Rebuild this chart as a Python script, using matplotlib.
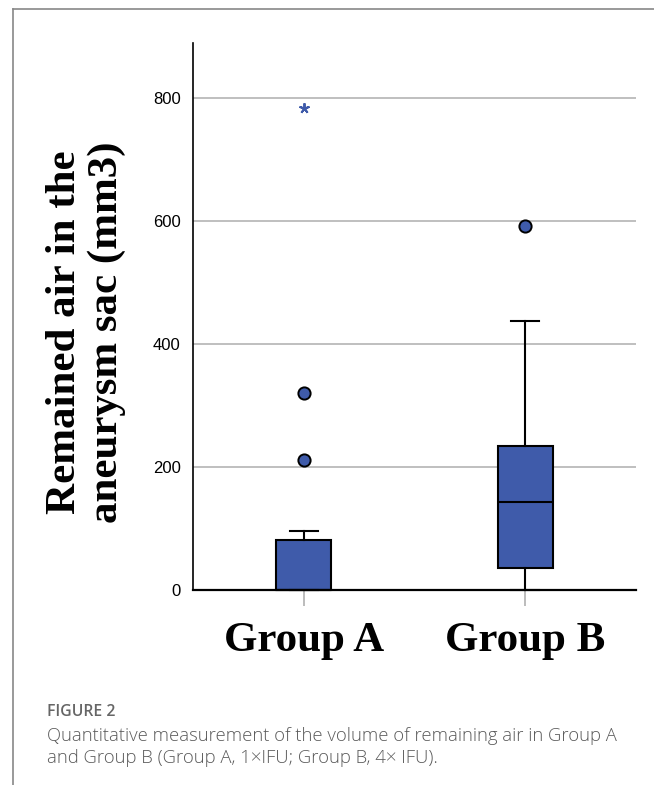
import matplotlib
matplotlib.use("Agg")
import matplotlib.pyplot as plt
from matplotlib.lines import Line2D
import matplotlib.transforms as mtransforms

# ---- data ----
groups = ["Group A", "Group B"]
whisker_low = [0, 0]
q1 = [0, 36]
median = [0, 143]
q3 = [82, 235]
whisker_high = [96, 437]
outliers_a = [212, 321]
outliers_b = [592]
extremes_a = [785]
yticks = [0, 200, 400, 600, 800]
ylabel = "Remained air in the\naneurysm sac (mm3)"
caption_head = "FIGURE 2"
caption_body = ("Quantitative measurement of the volume of remaining air in Group A\n"
                "and Group B (Group A, 1\u00d7IFU; Group B, 4\u00d7 IFU).")

BLUE = "#3f5baa"

fig = plt.figure(figsize=(6.54, 7.85), dpi=100)
ax = fig.add_axes([193/654, 1-590/785, (636-193)/654, (590-43)/785])

stats = []
for i, g in enumerate(groups):
    stats.append(dict(label=g, whislo=whisker_low[i], q1=q1[i], med=median[i],
                      q3=q3[i], whishi=whisker_high[i], fliers=[]))
positions = [1, 2]
bp = ax.bxp(stats, positions=positions, widths=0.25, patch_artist=True,
            showfliers=False,
            boxprops=dict(facecolor=BLUE, edgecolor="black", linewidth=1.5),
            medianprops=dict(color="black", linewidth=1.5),
            whiskerprops=dict(color="black", linewidth=1.5),
            capprops=dict(color="black", linewidth=1.5),
            capwidths=0.125, zorder=3)
for art in bp["boxes"] + bp["whiskers"] + bp["caps"] + bp["medians"]:
    art.set_clip_on(False)

ax.plot([positions[0]] * len(outliers_a), outliers_a, "o", ms=8.8,
        mfc=BLUE, mec="black", mew=1.4, zorder=4, clip_on=False)
ax.plot([positions[1]] * len(outliers_b), outliers_b, "o", ms=8.8,
        mfc=BLUE, mec="black", mew=1.4, zorder=4, clip_on=False)
ax.plot([positions[0]] * len(extremes_a), extremes_a, marker=(5, 2, 0), ls="none",
        ms=7.5, mec=BLUE, mew=1.4, zorder=4, clip_on=False)

ax.set_xlim(0.5, 2.5)
ax.set_ylim(0, 890)
ax.set_yticks(yticks)
ax.set_yticklabels([str(v) for v in yticks], fontsize=12, family="Liberation Sans")
ax.tick_params(axis="y", length=0, pad=9)
ax.set_xticks(positions)
ax.set_xticklabels([])
ax.tick_params(axis="x", length=11.5, width=1.2, color="#b0b0b0", direction="out")
ax.grid(axis="y", color="#b4b4b4", linewidth=1.2, zorder=0)
ax.set_axisbelow(True)
for s in ["top", "right"]:
    ax.spines[s].set_visible(False)
ax.spines["left"].set_linewidth(1.2)
ax.spines["bottom"].set_linewidth(1.6)
ax.spines["bottom"].set_zorder(5)

trans = mtransforms.blended_transform_factory(ax.transData, fig.transFigure)
for p, g in zip(positions, groups):
    ax.text(p, 1 - 651/785, g, transform=trans,
            ha="center", va="baseline", fontsize=31, fontweight="bold", family="Liberation Serif")

fig.text(86/654, 1-332/785, ylabel, rotation=90, ha="center", va="center",
         multialignment="center", fontsize=31, fontweight="bold", family="Liberation Serif",
         linespacing=1.15)

fig.text(47/654, 1-712/785, caption_head, ha="left", va="center", fontsize=11.3,
         family="Open Sans", color="#666666", fontweight="semibold")
fig.text(47/654, 1-747/785, caption_body, ha="left", va="center", fontsize=13.3,
         family="Open Sans", color="#5a5a5a", linespacing=1.33, fontweight="light")

fig.add_artist(Line2D([12.5/654, 1], [1-8.5/785, 1-8.5/785], color="#888888", lw=1.2))
fig.add_artist(Line2D([12.5/654, 12.5/654], [0, 1-8.5/785], color="#888888", lw=1.2))

fig.savefig("out.png", dpi=100)
